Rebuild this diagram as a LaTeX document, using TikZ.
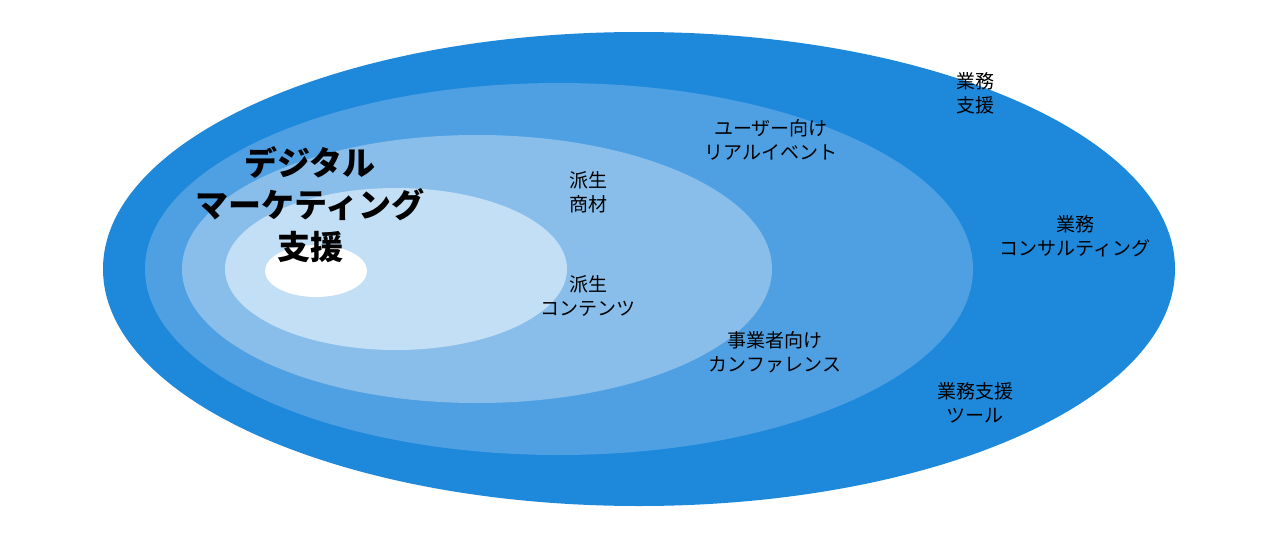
\documentclass[tikz,border=0pt]{standalone}
\usepackage{fontspec}
\setmainfont{Noto Sans CJK JP}
\definecolor{ringA}{HTML}{1E88DB}
\definecolor{ringB}{HTML}{4FA0E2}
\definecolor{ringC}{HTML}{89BEEB}
\definecolor{ringD}{HTML}{C3DFF5}
\tikzset{
  ring/.style={draw=none},
  lbl/.style={align=center,font=\fontsize{19}{24}\selectfont,inner sep=0pt},
  title/.style={align=center,font=\fontsize{33}{42}\selectfont\bfseries,inner sep=0pt}
}
\begin{document}
\begin{tikzpicture}[x=1pt,y=-1pt]
\useasboundingbox (0,0) rectangle (1280,538);
\fill[ring,ringA] (639,269) ellipse [x radius=536,y radius=237];
\fill[ring,ringB] (559,269) ellipse [x radius=414,y radius=186];
\fill[ring,ringC] (477,269) ellipse [x radius=295,y radius=134];
\fill[ring,ringD] (396,269) ellipse [x radius=171,y radius=81];
\fill[ring,white] (316,271) ellipse [x radius=51,y radius=26];

\node (dm) at (310,205) [title] {デジタル\\マーケティング\\支援};
\node (hs) at (588,192) [lbl] {派生\\商材};
\node (hc) at (588,296) [lbl] {派生\\コンテンツ};
\node (ue) at (771,140) [lbl] {ユーザー向け\\リアルイベント};
\node (jk) at (775,352) [lbl] {事業者向け\\カンファレンス};
\node (gs) at (975,93) [lbl] {業務\\支援};
\node (gc) at (1075,236) [lbl] {業務\\コンサルティング};
\node (gt) at (975,403) [lbl] {業務支援\\ツール};
\end{tikzpicture}
\end{document}
